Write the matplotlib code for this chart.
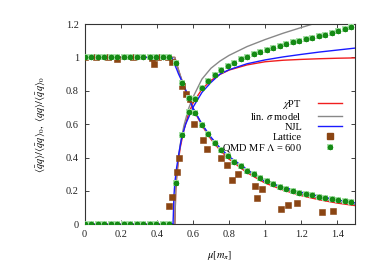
import matplotlib
matplotlib.use('Agg')
import matplotlib.pyplot as plt
from matplotlib.lines import Line2D
from matplotlib.legend_handler import HandlerTuple

plt.rcParams['font.family'] = 'serif'
plt.rcParams['font.serif'] = ['Liberation Serif', 'DejaVu Serif']
plt.rcParams['mathtext.fontset'] = 'stix'

# chiral perturbation theory
chpt_mu = [0.0, 0.5, 0.505, 0.51, 0.52, 0.53, 0.55, 0.575, 0.6, 0.65, 0.7, 0.75,
           0.8, 0.9, 1.0, 1.1, 1.2, 1.3, 1.4, 1.5]
chpt_cond = [1.0, 1.0, 0.98, 0.961, 0.925, 0.89, 0.826, 0.756, 0.694, 0.592, 0.51, 0.444,
             0.391, 0.309, 0.247, 0.205, 0.172, 0.147, 0.127, 0.112]
chpt_diq = [0.0, 0.0, 0.2, 0.28, 0.385, 0.46, 0.565, 0.66, 0.725, 0.81, 0.862, 0.898,
            0.924, 0.955, 0.974, 0.983, 0.988, 0.992, 0.995, 0.997]

# linear sigma model
lsm_mu = [0.0, 0.5, 0.505, 0.51, 0.52, 0.53, 0.55, 0.575, 0.6, 0.65, 0.7, 0.75,
          0.8, 0.9, 1.0, 1.1, 1.2, 1.3, 1.4, 1.5]
lsm_cond = [1.0, 1.0, 0.98, 0.962, 0.927, 0.893, 0.83, 0.76, 0.699, 0.598, 0.517, 0.452,
            0.399, 0.317, 0.257, 0.214, 0.181, 0.155, 0.134, 0.118]
lsm_diq = [0.0, 0.0, 0.21, 0.29, 0.40, 0.48, 0.59, 0.69, 0.76, 0.87, 0.935, 0.978,
           1.012, 1.065, 1.107, 1.145, 1.179, 1.212, 1.244, 1.275]

# NJL model
njl_mu = [0.0, 0.475, 0.485, 0.49, 0.495, 0.5, 0.51, 0.52, 0.538, 0.56, 0.6, 0.65, 0.7,
          0.75, 0.8, 0.9, 1.0, 1.1, 1.2, 1.3, 1.4, 1.5]
njl_cond = [1.0, 1.0, 0.995, 0.985, 0.97, 0.955, 0.93, 0.902, 0.86, 0.805, 0.697, 0.6, 0.522,
            0.458, 0.406, 0.328, 0.255, 0.223, 0.192, 0.168, 0.146, 0.128]
njl_diq = [0.0, 0.0, 0.0, 0.0, 0.17, 0.25, 0.34, 0.41, 0.52, 0.6, 0.7, 0.79, 0.85,
           0.9, 0.926, 0.962, 0.985, 1.003, 1.018, 1.032, 1.044, 1.056]

# lattice data
lat_mu = [0.0, 0.065, 0.132, 0.182, 0.27, 0.371, 0.385, 0.405, 0.464, 0.483, 0.538, 0.56,
          0.584, 0.608, 0.654, 0.676, 0.754, 0.787, 0.815, 0.848, 0.944, 0.953, 0.984,
          1.087, 1.128, 1.174, 1.316, 1.374, 0.469, 0.483, 0.51, 0.525]
lat_val = [1.0, 1.004, 1.0, 0.99, 1.004, 0.994, 0.96, 1.004, 1.0, 0.974, 0.826, 0.779,
           0.752, 0.599, 0.505, 0.451, 0.397, 0.353, 0.263, 0.301, 0.231, 0.159, 0.211,
           0.092, 0.117, 0.126, 0.072, 0.08, 0.111, 0.165, 0.311, 0.399]

# QMD mean field, Lambda = 600
qmd_mu = [0.0, 0.036, 0.072, 0.108, 0.144, 0.18, 0.216, 0.252, 0.288, 0.324, 0.36, 0.396,
          0.432, 0.468, 0.504, 0.54, 0.576, 0.612, 0.648, 0.684, 0.72, 0.756, 0.792, 0.828,
          0.864, 0.9, 0.936, 0.972, 1.008, 1.044, 1.08, 1.116, 1.152, 1.188, 1.224, 1.26,
          1.296, 1.332, 1.368, 1.404, 1.44, 1.476]
qmd_cond = [1.0, 1.0, 1.0, 1.0, 1.0, 1.0, 1.0, 1.0, 1.0, 1.0, 1.0, 1.0,
            1.0, 1.0, 0.968, 0.848, 0.754, 0.665, 0.594, 0.539, 0.489, 0.445, 0.409, 0.375,
            0.349, 0.322, 0.299, 0.279, 0.259, 0.241, 0.225, 0.213, 0.199, 0.189, 0.181, 0.174,
            0.165, 0.157, 0.150, 0.144, 0.140, 0.134]
qmd_diq = [0.0, 0.0, 0.0, 0.0, 0.0, 0.0, 0.0, 0.0, 0.0, 0.0, 0.0, 0.0,
           0.0, 0.0, 0.245, 0.535, 0.674, 0.749, 0.814, 0.86, 0.894, 0.926, 0.95, 0.968,
           0.988, 1.004, 1.02, 1.032, 1.044, 1.056, 1.068, 1.078, 1.09, 1.098, 1.108, 1.117,
           1.127, 1.137, 1.147, 1.157, 1.168, 1.18]

red = '#f01e1e'
gray = '#888888'
blue = '#1a1aff'
brown = '#8b4513'
green_dark = '#158a15'
green_light = '#a8dfa8'

fig = plt.figure(figsize=(3.9, 2.76), dpi=100)
ax = fig.add_axes([0.2167, 0.1873, 0.6948, 0.7257])

ax.plot(chpt_mu, chpt_cond, color=red, lw=1.0, zorder=2)
ax.plot(chpt_mu, chpt_diq, color=red, lw=1.0, zorder=2)
ax.plot(lsm_mu, lsm_cond, color=gray, lw=1.0, zorder=2)
ax.plot(lsm_mu, lsm_diq, color=gray, lw=1.0, zorder=2)
ax.plot(njl_mu, njl_cond, color=blue, lw=1.0, zorder=3)
ax.plot(njl_mu, njl_diq, color=blue, lw=1.0, zorder=3)

ax.plot(lat_mu, lat_val, ls='none', marker='s', ms=4.0, mfc=brown, mec=brown,
        mew=0.4, zorder=4)

for vals in (qmd_cond, qmd_diq):
    ax.plot(qmd_mu, vals, ls='none', marker='s', ms=4.4, mfc=green_light,
            mec=green_light, mew=0, zorder=5)
    ax.plot(qmd_mu, vals, ls='none', marker=(8, 2, 0), ms=3.8, color=green_dark,
            mew=0.9, zorder=6)

ax.set_xlim(0, 1.5)
ax.set_ylim(0, 1.2)
ax.set_xticks([0, 0.2, 0.4, 0.6, 0.8, 1.0, 1.2, 1.4])
ax.set_yticks([0, 0.2, 0.4, 0.6, 0.8, 1.0, 1.2])
ax.xaxis.set_major_formatter(matplotlib.ticker.FormatStrFormatter('%g'))
ax.yaxis.set_major_formatter(matplotlib.ticker.FormatStrFormatter('%g'))
ax.tick_params(direction='in', length=3, width=0.6, labelsize=7.5,
               top=True, right=True, pad=4, colors='#222222')
for s in ax.spines.values():
    s.set_linewidth(0.8)
    s.set_color('#333333')

ax.set_xlabel(r'$\mu[m_\pi]$', fontsize=7.5, labelpad=7)
ax.set_ylabel(r'$\langle\bar{q}q\rangle/\langle\bar{q}q\rangle_0,\ \langle qq\rangle/\langle\bar{q}q\rangle_0$',
              fontsize=7.5, labelpad=14)

handles = [
    Line2D([], [], color=red, lw=1.0),
    Line2D([], [], color=gray, lw=1.0),
    Line2D([], [], color=blue, lw=1.0),
    Line2D([], [], ls='none', marker='s', ms=4.0, color=brown),
    (Line2D([], [], ls='none', marker='s', ms=4.4, mfc=green_light, mec=green_light, mew=0),
     Line2D([], [], ls='none', marker=(8, 2, 0), ms=3.8, color=green_dark, mew=0.9)),
]
labels = [r'$\chi$PT', r'lin. $\sigma$ model', 'NJL', 'Lattice', r'QMD MF $\Lambda$ = 600']
ax.legend(handles, labels, loc='upper right', bbox_to_anchor=(0.949, 0.633),
          frameon=False, markerfirst=False, fontsize=7.5, handlelength=2.3,
          handletextpad=1.5, labelspacing=0.05, borderpad=0, borderaxespad=0,
          handler_map={tuple: HandlerTuple(ndivide=1, pad=0)})

fig.savefig('out.png', dpi=100)
